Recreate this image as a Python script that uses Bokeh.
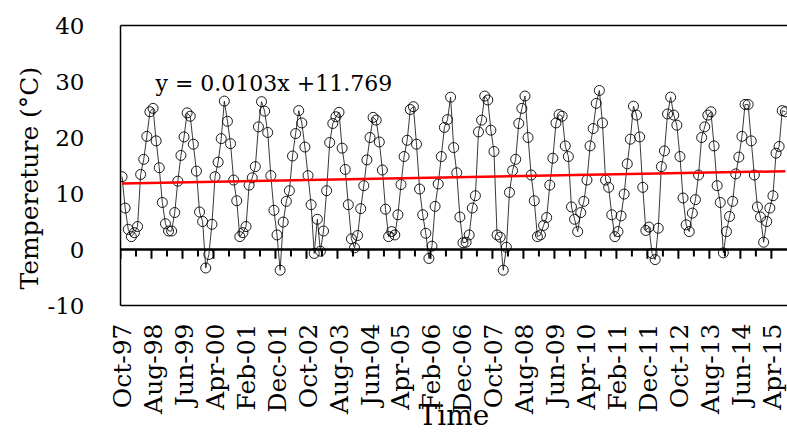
import numpy as np
from bokeh.plotting import figure
from bokeh.models import Range1d, LinearAxis, FixedTicker, Span, Label, Title
from bokeh.embed import file_html
from bokeh.resources import INLINE

# Monthly mean temperature (degC), Oct-1997 onwards
temps = [
    13.0, 7.4, 3.6, 2.3, 3.0, 4.1, 13.4, 16.1, 20.2, 24.6,
    25.2, 19.4, 14.6, 8.4, 4.6, 3.3, 3.3, 6.6, 12.2, 16.8,
    20.1, 24.4, 23.8, 18.8, 14.0, 6.7, 5.0, -3.3, -0.9, 4.5,
    13.0, 15.6, 19.8, 26.5, 22.9, 18.9, 12.4, 8.7, 2.3, 3.0,
    4.1, 11.5, 12.8, 14.8, 21.9, 26.4, 24.7, 20.9, 13.2, 7.0,
    2.6, -3.7, 4.9, 8.6, 10.5, 16.7, 20.7, 24.8, 22.6, 18.3,
    13.2, 8.0, -0.7, 5.4, -0.3, 3.3, 10.5, 19.1, 22.5, 23.7,
    24.5, 18.1, 14.3, 8.0, 1.9, 0.3, 2.5, 7.3, 11.4, 16.0,
    20.0, 23.6, 23.1, 19.2, 14.2, 7.2, 2.3, 3.2, 2.6, 6.2,
    11.6, 16.6, 19.5, 25.0, 25.5, 18.8, 10.8, 6.2, 2.9, -1.6,
    0.6, 7.7, 11.7, 16.6, 21.8, 23.2, 27.2, 18.2, 13.7, 5.8,
    1.2, 1.3, 2.6, 7.4, 9.6, 21.0, 23.1, 27.4, 26.7, 21.3,
    17.5, 2.6, 2.2, -3.7, 0.4, 10.2, 14.1, 16.1, 22.5, 25.2,
    27.4, 20.0, 13.3, 8.7, 2.3, 2.6, 4.3, 5.7, 11.5, 16.3,
    22.6, 24.1, 23.8, 18.5, 16.6, 7.6, 5.4, 3.2, 6.6, 8.6,
    12.4, 18.5, 21.6, 26.1, 28.4, 22.6, 12.4, 11.1, 6.2, 2.3,
    3.2, 6.0, 9.9, 15.3, 19.7, 25.6, 24.0, 20.1, 11.1, 3.4,
    4.0, -0.7, -1.8, 3.8, 14.8, 17.6, 24.2, 27.2, 24.0, 22.2,
    16.6, 9.2, 4.4, 3.2, 6.5, 8.9, 13.3, 20.0, 21.9, 24.0,
    24.6, 18.5, 11.4, 8.4, -0.6, 3.2, 5.9, 8.6, 13.5, 16.5,
    20.2, 25.9, 25.9, 19.4, 13.3, 7.6, 5.8, 1.3, 5.0, 7.4,
    9.6, 17.2, 18.4, 24.8, 24.6,
]

tick_labels = [
    "Oct-97", "Aug-98", "Jun-99", "Apr-00", "Feb-01", "Dec-01", "Oct-02",
    "Aug-03", "Jun-04", "Apr-05", "Feb-06", "Dec-06", "Oct-07", "Aug-08",
    "Jun-09", "Apr-10", "Feb-11", "Dec-11", "Oct-12", "Aug-13", "Jun-14",
    "Apr-15",
]
label_step = 10      # months between category labels
tick_step = 5        # months between tick marks on the zero line
y_ticks = [-10, 0, 10, 20, 30, 40]

slope = 0.0103
intercept = 11.769

FONT = "DejaVu Serif"

months = np.arange(len(temps))
label_pos = [int(i * label_step) for i in range(len(tick_labels))]

p = figure(width=787, height=434, output_backend="svg", toolbar_location=None,
           x_range=Range1d(-0.5, len(temps) - 0.3), y_range=Range1d(-10, 40),
           min_border_left=120, min_border_right=0, min_border_top=25,
           min_border_bottom=128)
p.outline_line_color = None
p.xgrid.visible = False
p.ygrid.visible = False
p.background_fill_color = "white"
p.border_fill_color = "white"

xa = p.xaxis[0]
xa.ticker = FixedTicker(ticks=label_pos)
xa.major_label_overrides = {pos: lab for pos, lab in zip(label_pos, tick_labels)}
xa.major_label_orientation = np.pi / 2
xa.major_tick_line_color = None
xa.minor_tick_line_color = None
xa.axis_line_color = "black"
xa.axis_line_width = 1.5
xa.major_label_text_font = FONT
xa.major_label_text_font_size = "25px"
xa.major_label_text_color = "black"
xa.major_label_standoff = 12
xa.axis_label = "Time"
xa.axis_label_text_font = FONT
xa.axis_label_text_font_size = "28px"
xa.axis_label_text_font_style = "normal"
xa.axis_label_text_color = "black"
xa.axis_label_standoff = -18

ya = p.yaxis[0]
ya.ticker = FixedTicker(ticks=y_ticks)
ya.major_label_overrides = {v: str(v) for v in y_ticks}
ya.major_tick_line_color = None
ya.minor_tick_line_color = None
ya.axis_line_color = "black"
ya.axis_line_width = 1.5
ya.major_label_text_font = FONT
ya.major_label_text_font_size = "23px"
ya.major_label_text_color = "black"
ya.major_label_standoff = 30

p.add_layout(Title(text="Tempereture (°C)", align="left", offset=16,
                   text_font=FONT, text_font_size="25px", text_font_style="normal",
                   text_color="black", standoff=2), "left")

top = LinearAxis(ticker=FixedTicker(ticks=[]), axis_line_color="black",
                 axis_line_width=1.5, major_tick_line_color=None,
                 minor_tick_line_color=None, major_label_text_font_size="0px",
                 major_label_standoff=0)
p.add_layout(top, "above")

# zero line with downward tick marks
p.add_layout(Span(location=0, dimension="width", line_color="black", line_width=2.5))
tick_x = np.arange(0, len(temps), tick_step) - 0.5
tick_len = np.where((np.arange(len(tick_x)) * tick_step) % label_step == 0, 1.65, 1.25)
p.segment(x0=tick_x, y0=np.zeros(len(tick_x)), x1=tick_x, y1=-tick_len,
          line_color="black", line_width=2)

# data series
p.line(months, temps, line_color="#222222", line_width=0.9)
p.scatter(months, temps, marker="circle", size=10, fill_color=None,
          line_color="black", line_width=0.9)

# linear trend (x counted from 1)
tx = np.array([months[0], months[-1]])
ty = slope * (tx + 1) + intercept
p.line(tx, ty, line_color="#ff0000", line_width=2.5)

p.add_layout(Label(x=10.8, y=29.6, text=f"y = {slope}x +{intercept}",
                   text_font=FONT, text_font_size="22px", text_color="black",
                   text_baseline="alphabetic"))

open("out.html", "w").write(file_html(p, INLINE))
